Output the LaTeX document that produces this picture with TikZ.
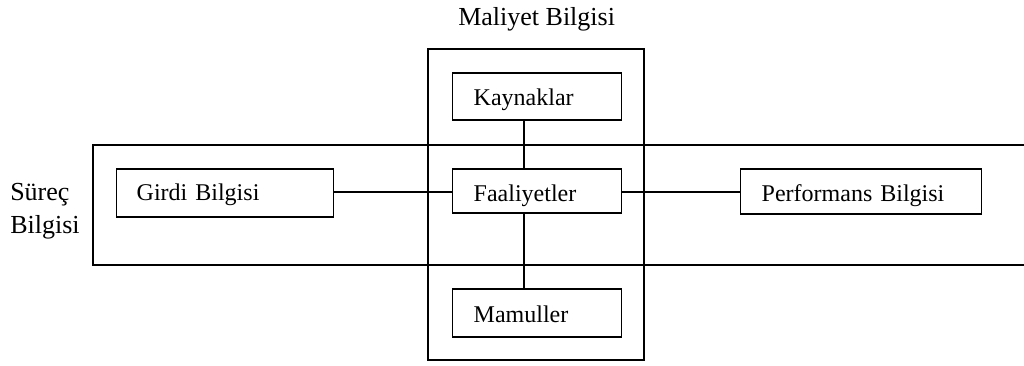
\documentclass[tikz,border=0pt]{standalone}
\usepackage{fontspec}
\setmainfont{Liberation Serif}
\begin{document}
\begin{tikzpicture}[x=0.75pt,y=-0.75pt,
  frame/.style={line width=1.2pt},
  box/.style={draw,line width=1.1pt,inner ysep=0pt,inner xsep=15.75pt,align=left,anchor=base west,font=\fontsize{18}{20}\selectfont},
  conn/.style={line width=0.8pt},
  lbl/.style={inner sep=0pt,anchor=base west,font=\fontsize{19.5}{24.75}\selectfont}]
\useasboundingbox (0,0) rectangle (1024,365);
% frames
\draw[frame] (428,49) rectangle (644,360);
\begin{scope}
\clip (0,0) rectangle (1024,365);
\draw[frame] (1040,145) -- (93,145) -- (93,265) -- (1040,265);
\end{scope}
% labels
\node[lbl] (mal) at (458,25) {Maliyet Bilgisi};
\node[lbl,align=left] (sur) at (10,233) {Süreç\\Bilgisi};
% boxes
\node[box,text width=95.25pt,text height=24pt,text depth=11.25pt] (kay) at (452,105) {Kaynaklar};
\node[box,text width=95.25pt,text height=24pt,text depth=9pt] (faa) at (452,201) {Faaliyetler};
\node[box,text width=95.25pt,text height=24.75pt,text depth=11.25pt] (mam) at (452,322) {Mamuller};
\node[box,inner xsep=15pt,text width=132.75pt,text height=23.25pt,text depth=12.75pt] (gir) at (116,200) {Girdi Bilgisi};
\node[box,text width=149.25pt,text height=24pt,text depth=9.75pt] (per) at (740,201) {Performans Bilgisi};
% connectors
\coordinate (vx) at (524,0);
\coordinate (hy) at (0,192);
\draw[conn] (kay.south -| vx) -- (faa.north -| vx);
\draw[conn] (faa.south -| vx) -- (mam.north -| vx);
\draw[conn] (gir.east |- hy) -- (faa.west |- hy);
\draw[conn] (faa.east |- hy) -- (per.west |- hy);
\end{tikzpicture}
\end{document}
